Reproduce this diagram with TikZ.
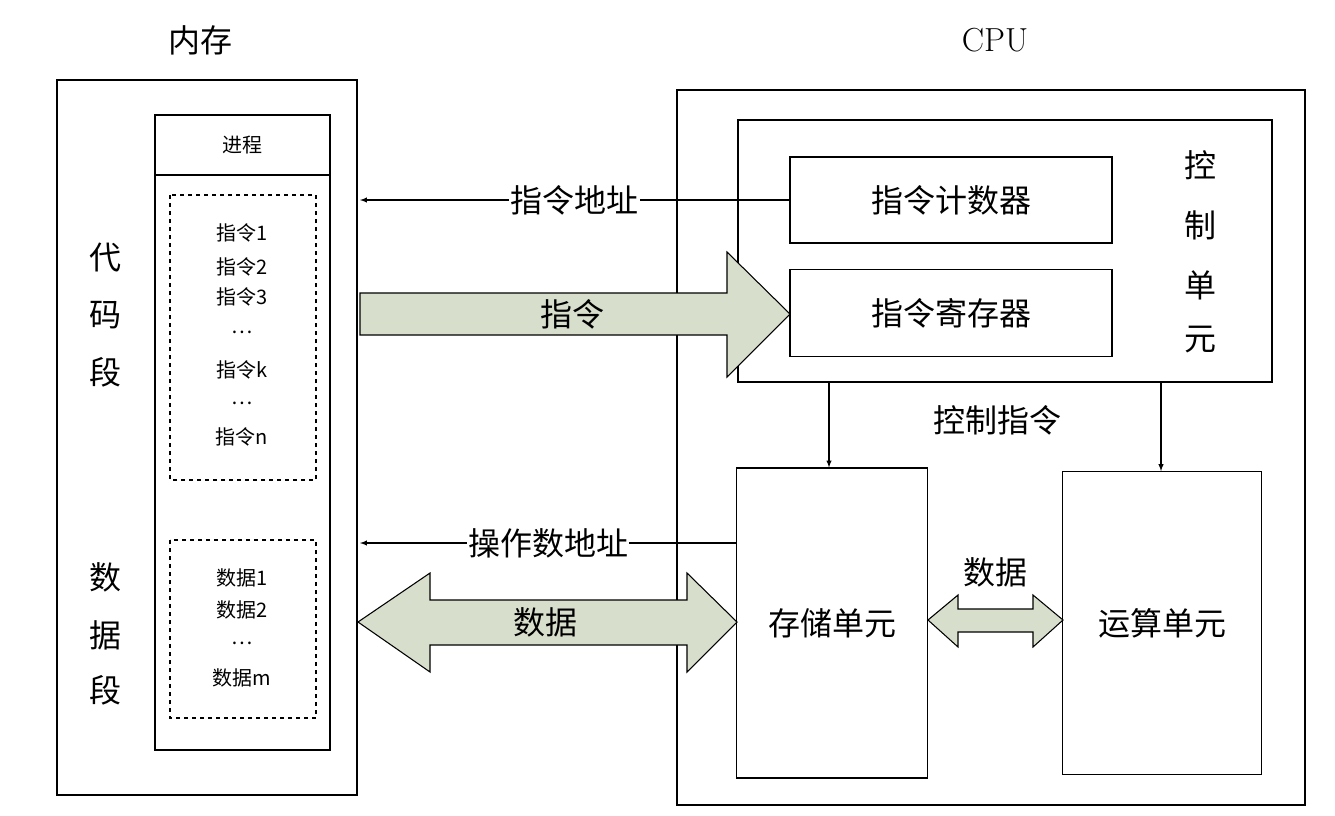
\documentclass[tikz,border=0pt]{standalone}
\usepackage{fontspec}
\newfontfamily\cjk{Noto Sans CJK SC}
\usetikzlibrary{positioning, arrows, calc}
\definecolor{arrow-green}{RGB}{216,222,204}

\tikzset{
  box/.style={draw, thick, minimum width=0, inner sep=0},
  big/.style={font=\cjk\fontsize{24}{28}\selectfont},
  small/.style={font=\cjk\fontsize{15}{18}\selectfont},
  fat/.style={draw, thick, fill=arrow-green, line join=miter},
}

\begin{document}
\begin{tikzpicture}[x=0.75pt, y=-0.75pt]
\useasboundingbox (0,0) rectangle (1335,815);

% titles
\node[big] (memtitle) at (200,40) {内存};
\node[font=\fontsize{25}{28}\selectfont] (cputitle) at (995,40) {CPU};

% memory side
\draw[thick] (57,80) rectangle (357,795);
\draw[thick] (155,115) rectangle (330,750);
\draw[thick] (155,175) -- (330,175);
\node[small] (proc) at (242,145) {进程};
\draw[thick, dashed] (170,195) rectangle (316,480);
\draw[thick, dashed] (170,540) rectangle (316,718);
\foreach \y/\t in {233/指令1, 267/指令2, 297/指令3, 332/…, 370/指令k, 403/…, 437/指令n}
  \node[small] at (242,\y) {\t};
\foreach \y/\t in {578/数据1, 610/数据2, 643/…, 678/数据m}
  \node[small] at (242,\y) {\t};
\foreach \y/\t in {258/代, 315/码, 372/段, 577/数, 635/据, 690/段}
  \node[big] at (105,\y) {\t};

% cpu side
\draw[thick] (677,90) rectangle (1305,805);
\draw[thick] (738,120) rectangle (1272,382);
\node[box, minimum width=241.5pt, minimum height=64.5pt, big] (pc) at (951,200) {指令计数器};
\node[box, minimum width=241.5pt, minimum height=65pt, big] (ir) at (951,313) {指令寄存器};
\foreach \y/\t in {165/控, 225/制, 285/单, 340/元}
  \node[big] at (1200,\y) {\t};
\node[box, minimum width=143pt, minimum height=232.5pt, big] (store) at (832,623) {存储单元};
\node[box, minimum width=149pt, minimum height=227pt, big] (alu) at (1162,623) {运算单元};

% connectors
\coordinate (addrend) at (360,200);
\draw[thick, -latex] (pc.west) -- (addrend) node[pos=0.5, fill=white, big, inner sep=1pt] {指令地址};
\coordinate (opend) at (360,543);
\draw[thick, -latex] (store.west |- opend) -- (opend) node[pos=0.5, fill=white, big, inner sep=1pt] {操作数地址};
\coordinate (c1) at (829,382);
\coordinate (c2) at (1161,382);
\draw[thick, -latex] (c1) -- (c1 |- store.north);
\draw[thick, -latex] (c2) -- (c2 |- alu.north);
\node[big] (ctrl) at (997,420) {控制指令};

% fat arrows
\draw[fat] (360,293) -- (727,293) -- (727,252) -- (790,314) -- (727,377) -- (727,335) -- (360,335) -- cycle;
\node[big] (instr) at (572,314) {指令};
\draw[fat] (358,622) -- (430,573) -- (430,600) -- (687,600) -- (687,573) -- (737,622)
  -- (687,672) -- (687,645) -- (430,645) -- (430,672) -- cycle;
\node[big] (data) at (545,622) {数据};
\draw[fat] (928,620) -- (958,595) -- (958,609) -- (1033,609) -- (1033,595) -- (1063,620)
  -- (1033,647) -- (1033,632) -- (958,632) -- (958,647) -- cycle;
\node[big] (data2) at (995,572) {数据};
\end{tikzpicture}
\end{document}
